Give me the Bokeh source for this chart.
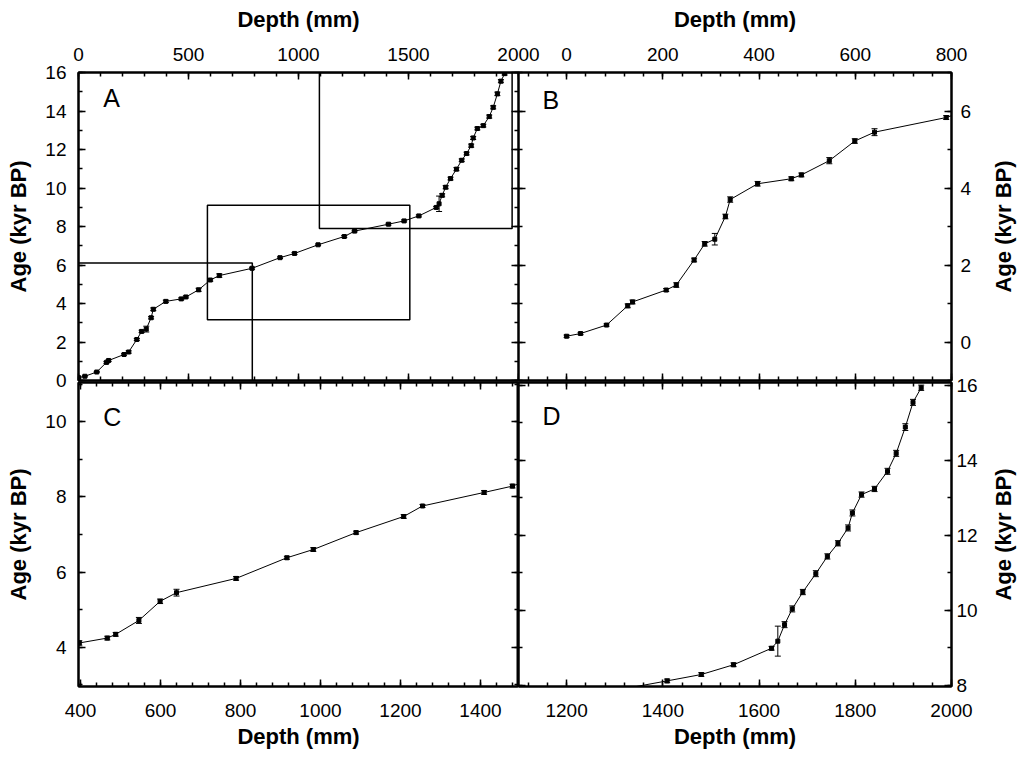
import math
from bokeh.plotting import figure
from bokeh.models import Range1d, LinearAxis, SingleIntervalTicker, FixedTicker, Label, ColumnDataSource
from bokeh.layouts import column, row
from bokeh.embed import file_html
from bokeh.resources import INLINE

# ---- data ----
depth = [0, 29, 83, 127, 137, 207, 228, 265, 287, 308, 330, 340, 397,
         467, 488, 546, 599, 640, 789, 916, 982, 1089, 1208, 1255, 1409, 1480,
         1547, 1626, 1639, 1653, 1669, 1691, 1718, 1742, 1764, 1785, 1794,
         1813, 1840, 1867, 1885, 1904, 1920, 1937]
age = [0.15, 0.22, 0.44, 0.94, 1.04, 1.35, 1.48, 2.13, 2.55, 2.67, 3.26, 3.70, 4.11,
       4.24, 4.34, 4.71, 5.22, 5.45, 5.83, 6.38, 6.60, 7.05, 7.48, 7.76, 8.12, 8.29,
       8.55, 8.99, 9.18, 9.62, 10.04, 10.49, 10.98, 11.44, 11.79, 12.20, 12.60,
       13.09, 13.24, 13.71, 14.19, 14.89, 15.55, 15.94]
age_err = [0.03, 0.03, 0.03, 0.05, 0.05, 0.04, 0.06, 0.05, 0.06, 0.15, 0.06, 0.07, 0.06,
           0.05, 0.05, 0.08, 0.06, 0.09, 0.05, 0.04, 0.05, 0.04, 0.05, 0.04, 0.05, 0.05,
           0.05, 0.05, 0.40, 0.08, 0.08, 0.07, 0.08, 0.07, 0.07, 0.08, 0.08,
           0.07, 0.07, 0.08, 0.08, 0.09, 0.08, 0.07]

# zoom boxes drawn in panel A
rect_left = [-50, 586, 1095]
rect_right = [790, 1506, 1971]
rect_bottom = [-0.5, 3.15, 7.9]
rect_top = [6.1, 9.1, 16.0]

x_title = "Depth (mm)"
y_title = "Age (kyr BP)"

FONT = "Liberation Sans"
TICK_SIZE = "19px"
TITLE_SIZE = "22px"

src = ColumnDataSource(dict(
    depth=depth, age=age,
    lower=[a - e for a, e in zip(age, age_err)],
    upper=[a + e for a, e in zip(age, age_err)],
))


def make_fig(w, h, xr, yr, bl, br, bt, bb, transparent=False):
    p = figure(width=w, height=h, x_range=Range1d(*xr), y_range=Range1d(*yr),
               output_backend="svg", toolbar_location=None,
               x_axis_location=None, y_axis_location=None,
               min_border_left=bl, min_border_right=br,
               min_border_top=bt, min_border_bottom=bb)
    p.grid.visible = False
    p.outline_line_color = "black"
    p.outline_line_width = 2
    p.background_fill_color = "white"
    p.border_fill_color = "white"
    if transparent:
        p.border_fill_alpha = 0
    return p


def add_axis(p, side, interval, minor, labeled, title=None,
             lab_standoff=8, title_standoff=8):
    ax = LinearAxis(ticker=SingleIntervalTicker(interval=interval, num_minor_ticks=minor))
    ax.axis_line_width = 2
    ax.axis_line_color = "black"
    ax.major_tick_in = 7
    ax.major_tick_out = 0
    ax.minor_tick_in = 4
    ax.minor_tick_out = 0
    ax.major_tick_line_width = 1.5
    ax.minor_tick_line_width = 1.5
    ax.major_tick_line_color = "black"
    ax.minor_tick_line_color = "black"
    if labeled:
        ax.major_label_text_font = FONT
        ax.major_label_text_font_size = TICK_SIZE
        ax.major_label_text_color = "black"
        ax.major_label_standoff = lab_standoff
        if title:
            ax.axis_label = title
            ax.axis_label_text_font = FONT
            ax.axis_label_text_font_size = TITLE_SIZE
            ax.axis_label_text_font_style = "bold"
            ax.axis_label_text_color = "black"
            ax.axis_label_standoff = title_standoff
    else:
        ax.major_label_text_font_size = "0px"
        ax.major_label_text_color = None
        ax.major_label_standoff = 0
    p.add_layout(ax, side)
    return ax


def title_strip(h, bt, bb):
    # narrow companion figure carrying the right-hand "Age" title (reads bottom-to-top)
    t = figure(width=35, height=h, x_range=Range1d(0, 1), y_range=Range1d(0, 1),
               output_backend="svg", toolbar_location=None,
               x_axis_location=None, y_axis_location=None,
               min_border_left=32, min_border_right=0,
               min_border_top=bt, min_border_bottom=bb)
    t.grid.visible = False
    t.outline_line_color = None
    t.background_fill_alpha = 0
    t.border_fill_alpha = 0
    ax = LinearAxis(ticker=FixedTicker(ticks=[]))
    ax.axis_line_color = None
    ax.major_tick_line_color = None
    ax.minor_tick_line_color = None
    ax.major_label_text_font_size = "0px"
    ax.major_label_text_color = None
    ax.major_label_standoff = 0
    ax.axis_label = y_title
    ax.axis_label_text_font = FONT
    ax.axis_label_text_font_size = TITLE_SIZE
    ax.axis_label_text_font_style = "bold"
    ax.axis_label_text_color = "black"
    ax.axis_label_standoff = 2
    t.add_layout(ax, "left")
    return t


def draw_data(p):
    p.line("depth", "age", source=src, line_color="black", line_width=1)
    p.segment(x0="depth", y0="lower", x1="depth", y1="upper", source=src,
              line_color="black", line_width=1)
    p.scatter("depth", "lower", source=src, marker="dash", size=6,
              line_color="black", line_width=1)
    p.scatter("depth", "upper", source=src, marker="dash", size=6,
              line_color="black", line_width=1)
    p.scatter("depth", "age", source=src, marker="square", size=4,
              fill_color="black", line_color="black")


def letter(p, txt, x, y):
    p.add_layout(Label(x=x, y=y, text=txt, text_font=FONT, text_font_size="25px",
                       text_color="black", text_baseline="top", text_align="left"))


# ---- panel A ----  frame x 78..518, y 72..380 (canvas runs on to 540 so "2000" is whole)
pA = make_fig(540, 392, (0, 2000), (0, 16), 78, 22, 72, 12)
add_axis(pA, "above", 500, 5, True, x_title, 12, 13)
add_axis(pA, "left", 2, 2, True, y_title, 12, 11)
add_axis(pA, "below", 500, 5, False)
add_axis(pA, "right", 2, 2, False)
pA.quad(left=rect_left, right=rect_right, bottom=rect_bottom, top=rect_top,
        fill_color=None, line_color="black", line_width=1.5)
draw_data(pA)
letter(pA, "A", 112, 15.4)

# ---- panel B ----  frame x 518..951 (pulled left over A's spare margin)
pB = make_fig(467, 392, (-100, 800), (-1, 7), 0, 34, 72, 12, transparent=True)
pB.margin = (0, 0, 0, -22)
add_axis(pB, "above", 200, 5, True, x_title, 12, 13)
add_axis(pB, "right", 2, 2, True, None, 9)
add_axis(pB, "below", 200, 5, False)
add_axis(pB, "left", 2, 2, False)
draw_data(pB)
letter(pB, "B", -50, 6.65)
tB = title_strip(392, 72, 12)

# ---- panel C ----  canvas starts at 372 (overlap), frame y 382..686
pC = make_fig(518, 383, (395, 1495), (2.95, 11.05), 78, 0, 10, 69, transparent=True)
add_axis(pC, "below", 200, 5, True, x_title, 17, 4)
add_axis(pC, "left", 2, 2, True, y_title, 12, 11)
add_axis(pC, "above", 200, 5, False)
add_axis(pC, "right", 2, 2, False)
draw_data(pC)
letter(pC, "C", 457, 10.5)

# ---- panel D ----
pD = make_fig(467, 383, (1100, 2000), (7.97, 16.08), 0, 34, 10, 69, transparent=True)
add_axis(pD, "below", 200, 5, True, x_title, 17, 4)
add_axis(pD, "right", 2, 2, True, None, 5)
add_axis(pD, "above", 200, 5, False)
add_axis(pD, "left", 2, 2, False)
draw_data(pD)
letter(pD, "D", 1150, 15.55)
tD = title_strip(383, 10, 69)

layout = column(row(pA, pB, tB, spacing=0),
                row(pC, pD, tD, spacing=0, margin=(-20, 0, 0, 0)),
                spacing=0)

open("out.html", "w").write(file_html(layout, INLINE))
